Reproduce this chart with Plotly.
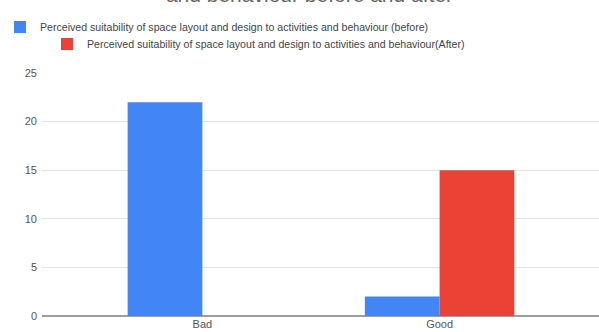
import plotly.graph_objects as go

categories = ["Bad", "Good"]
before_values = [22, 2]
after_values = [0, 15]
before_name = "Perceived suitability of space layout and design to activities and behaviour (before)"
after_name = "Perceived suitability of space layout and design to activities and behaviour(After)"
title_text = "Perceived suitability of space layout and design to activities<br>and behaviour before and after"
y_ticks = [0, 5, 10, 15, 20, 25]

W, H = 599, 332
plot_top, plot_bottom = 73, 316
font = "Arial, Liberation Sans, sans-serif"

fig = go.Figure()
fig.add_trace(go.Bar(x=categories, y=before_values, name=before_name,
                     marker=dict(color="#4285F4", line=dict(width=0)), legend="legend"))
fig.add_trace(go.Bar(x=categories, y=after_values, name=after_name,
                     marker=dict(color="#EA4335", line=dict(width=0)), legend="legend2"))

plot_h = plot_bottom - plot_top
fig.add_annotation(text=title_text, xref="paper", yref="paper", x=(309 - 42) / (W - 42),
                   y=1 + (plot_top - 8) / plot_h,
                   xanchor="center", yanchor="bottom", showarrow=False, align="center",
                   font=dict(family=font, size=21, color="#666666"))

legend_style = dict(orientation="h", xref="container", yref="container", xanchor="left", yanchor="middle",
                    font=dict(family=font, size=10.6, color="#444444"), bgcolor="rgba(0,0,0,0)",
                    itemwidth=30)

fig.update_layout(
    width=W, height=H, autosize=False,
    margin=dict(l=42, r=0, t=plot_top, b=H - plot_bottom),
    paper_bgcolor="white", plot_bgcolor="white",
    barmode="group", bargap=0.37, bargroupgap=0,
    showlegend=True,
    legend=dict(x=0, y=1 - 27 / H, **legend_style),
    legend2=dict(x=47 / W, y=1 - 44 / H, **legend_style),
    xaxis=dict(type="category", range=[-0.676, 1.672], showgrid=False, showline=False, ticks="",
               tickfont=dict(family=font, size=11, color="#555555")),
    yaxis=dict(range=[0, 25], tickvals=y_ticks, showgrid=True, gridcolor="#e3e3e3", gridwidth=1,
               zeroline=True, zerolinecolor="#9e9e9e", zerolinewidth=1.5, ticks="",
               ticklabelstandoff=4,
               tickfont=dict(family=font, size=11, color="#555555")),
)

fig.write_html("out.html", config={"displayModeBar": False},
               post_script="document.body.style.margin='0';")
